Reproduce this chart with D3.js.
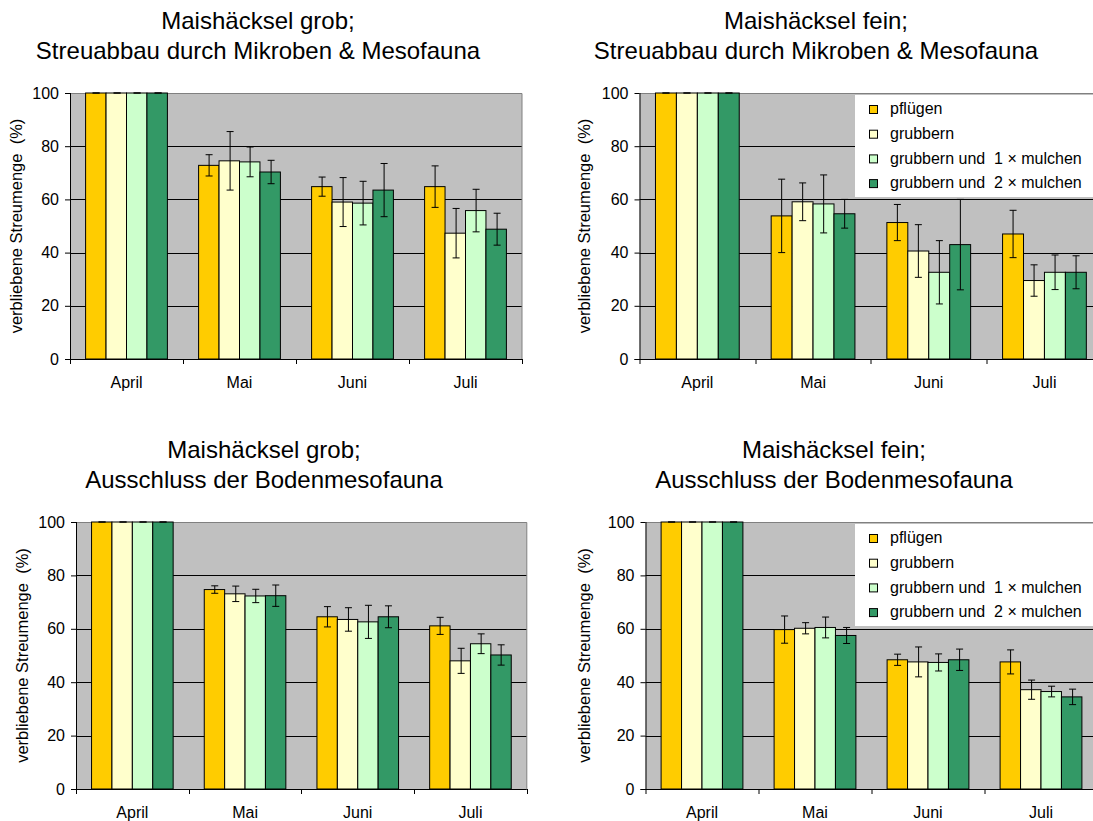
<!DOCTYPE html>
<html>
<head>
<meta charset="utf-8">
<script src="https://cdn.jsdelivr.net/npm/d3@7"></script>
<style>
  body { margin: 0; background: #fff; }
  svg text { font-family: "Liberation Sans", Arial, sans-serif; white-space: pre; fill: #000; }
</style>
</head>
<body>
<div id="chart"></div>
<script>
const months = ["April", "Mai", "Juni", "Juli"];
const treatments = ["pflügen", "grubbern", "grubbern und  1 × mulchen", "grubbern und  2 × mulchen"];
const colors = ["#FFCC00", "#FFFFCC", "#CCFFCC", "#339966"];
const yTicks = [0, 20, 40, 60, 80, 100];

// one row per treatment, one value per month
const grobMesoMean = [[100, 72.8, 64.8, 64.8], [100, 74.5, 59.0, 47.3], [100, 74.1, 58.6, 55.8], [100, 70.3, 63.5, 48.8]];
const grobMesoErr  = [[0, 4.0, 3.6, 7.8], [0, 11.0, 9.2, 9.3], [0, 5.6, 8.2, 8.0], [0, 4.4, 10.0, 6.0]];
const feinMesoMean = [[100, 53.8, 51.3, 47.0], [100, 59.1, 40.6, 29.5], [100, 58.3, 32.6, 32.6], [100, 54.6, 43.0, 32.6]];
const feinMesoErr  = [[0, 13.8, 6.8, 8.9], [0, 7.1, 9.9, 5.9], [0, 10.9, 11.9, 6.5], [0, 5.4, 17.0, 6.2]];
const grobAusMean  = [[100, 74.7, 64.5, 61.1], [100, 73.1, 63.5, 48.0], [100, 72.3, 62.6, 54.4], [100, 72.4, 64.5, 50.2]];
const grobAusErr   = [[0, 1.4, 3.8, 3.2], [0, 2.9, 4.4, 4.7], [0, 2.5, 6.2, 3.7], [0, 4.0, 4.1, 3.8]];
const feinAusMean  = [[100, 59.7, 48.4, 47.6], [100, 60.2, 47.6, 37.2], [100, 60.5, 47.4, 36.5], [100, 57.5, 48.4, 34.5]];
const feinAusErr   = [[0, 5.1, 2.1, 4.5], [0, 2.1, 5.6, 3.6], [0, 3.9, 3.2, 2.0], [0, 3.0, 4.0, 2.9]];

const panels = [
    {title: ["Maishäcksel grob;", "Streuabbau durch Mikroben & Mesofauna"], mean: grobMesoMean, err: grobMesoErr,
     left: 70, top: 93, band: 113, height: 266, titleX: 258, labelX: 18, legend: false},
    {title: ["Maishäcksel fein;", "Streuabbau durch Mikroben & Mesofauna"], mean: feinMesoMean, err: feinMesoErr,
     left: 639.5, top: 93, band: 115.7, height: 266, titleX: 816, labelX: 586, legend: true},
    {title: ["Maishäcksel grob;", "Ausschluss der Bodenmesofauna"], mean: grobAusMean, err: grobAusErr,
     left: 76, top: 522, band: 112.7, height: 267, titleX: 264, labelX: 24, legend: false},
    {title: ["Maishäcksel fein;", "Ausschluss der Bodenmesofauna"], mean: feinAusMean, err: feinAusErr,
     left: 645.5, top: 522, band: 113, height: 267, titleX: 834, labelX: 586, legend: true}
];

const svg = d3.select("#chart")
    .append("svg")
        .attr("width", 1093)
        .attr("height", 821);

function drawPanel(p) {
    const width = p.band * months.length;

    const x0 = d3.scaleBand()
        .domain(months)
        .range([0, width])
        .paddingInner(0.276)
        .paddingOuter(0.138);

    const x1 = d3.scaleBand()
        .domain(d3.range(treatments.length))
        .range([0, x0.bandwidth()]);

    const y = d3.scaleLinear()
        .domain([0, 100])
        .range([p.height, 0]);

    // titles
    p.title.forEach((t, i) => {
        svg.append("text")
            .attr("x", p.titleX)
            .attr("y", p.top - 64 + i * 29.5)
            .attr("text-anchor", "middle")
            .style("font-size", "24px")
            .text(t);
    });

    // y label
    svg.append("text")
        .attr("transform", `translate(${p.labelX},${p.top + p.height / 2}) rotate(-90)`)
        .attr("text-anchor", "middle")
        .attr("dominant-baseline", "middle")
        .style("font-size", "16.5px")
        .text("verbliebene Streumenge  (%)");

    const g = svg.append("g")
        .attr("transform", "translate(" + p.left + "," + p.top + ")");

    g.append("rect")
        .attr("width", width)
        .attr("height", p.height)
        .attr("fill", "#C0C0C0");

    // gridlines
    g.selectAll(".grid")
        .data(yTicks.filter(d => d > 0 && d < 100))
        .join("line")
            .attr("class", "grid")
            .attr("x1", 0)
            .attr("x2", width)
            .attr("y1", d => Math.round(y(d)) + 0.5)
            .attr("y2", d => Math.round(y(d)) + 0.5)
            .attr("stroke", "#000");

    // border top and right
    g.append("path")
        .attr("d", `M0,0.5H${width}V${p.height}`)
        .attr("fill", "none")
        .attr("stroke", "#808080");

    // bars
    const groups = g.selectAll(".month")
        .data(months)
        .join("g")
            .attr("class", "month")
            .attr("transform", d => "translate(" + x0(d) + ",0)");

    groups.selectAll("rect")
        .data((m, mi) => treatments.map((t, ti) => ({ti: ti, v: p.mean[ti][mi], e: p.err[ti][mi]})))
        .join("rect")
            .attr("x", d => x1(d.ti))
            .attr("y", d => y(d.v))
            .attr("width", x1.bandwidth())
            .attr("height", d => y(0) - y(d.v))
            .attr("fill", d => colors[d.ti])
            .attr("stroke", "#000")
            .attr("stroke-width", 1);

    // error bars
    const eb = groups.selectAll(".err")
        .data((m, mi) => treatments.map((t, ti) => ({ti: ti, v: p.mean[ti][mi], e: p.err[ti][mi]})))
        .join("g")
            .attr("class", "err")
            .attr("transform", d => "translate(" + (Math.round(x1(d.ti) + x1.bandwidth() / 2) + 0.5) + ",0)");

    eb.append("line")
        .attr("y1", d => y(d.v + d.e))
        .attr("y2", d => y(d.v - d.e))
        .attr("stroke", "#000");
    eb.selectAll(".cap")
        .data(d => [d.v + d.e, d.v - d.e])
        .join("line")
            .attr("class", "cap")
            .attr("x1", -3.5)
            .attr("x2", 3.5)
            .attr("y1", d => y(d))
            .attr("y2", d => y(d))
            .attr("stroke", "#000");

    // y axis
    const yAxis = g.append("g")
        .call(d3.axisLeft(y).tickValues(yTicks).tickSize(5).tickPadding(6));
    yAxis.select(".domain").attr("d", `M0.5,0V${p.height}`).attr("stroke", "#000");
    yAxis.selectAll(".tick text").style("font-size", "16px").attr("fill", "#000");

    // x axis: ticks at category borders
    const xAxis = g.append("g")
        .attr("transform", "translate(0," + p.height + ")");
    xAxis.append("line")
        .attr("x1", -5)
        .attr("x2", width)
        .attr("y1", 0.5)
        .attr("y2", 0.5)
        .attr("stroke", "#000");
    xAxis.selectAll(".xtick")
        .data(d3.range(months.length + 1))
        .join("line")
            .attr("class", "xtick")
            .attr("x1", i => Math.round(i * p.band) + 0.5)
            .attr("x2", i => Math.round(i * p.band) + 0.5)
            .attr("y1", 0)
            .attr("y2", 5)
            .attr("stroke", "#000");
    xAxis.selectAll(".xlabel")
        .data(months)
        .join("text")
            .attr("class", "xlabel")
            .attr("x", d => x0(d) + x0.bandwidth() / 2)
            .attr("y", 29)
            .attr("text-anchor", "middle")
            .style("font-size", "16px")
            .text(d => d);

    if (p.legend) {
        const lg = svg.append("g")
            .attr("transform", "translate(855," + (p.top + 2) + ")");
        lg.append("rect")
            .attr("width", 250)
            .attr("height", 102)
            .attr("fill", "#fff");
        const items = lg.selectAll(".item")
            .data(treatments)
            .join("g")
                .attr("class", "item")
                .attr("transform", (d, i) => "translate(0," + (15 + i * 24.7) + ")");
        items.append("rect")
            .attr("x", 14.5)
            .attr("y", -4.5)
            .attr("width", 8)
            .attr("height", 8)
            .attr("fill", (d, i) => colors[i])
            .attr("stroke", "#000");
        items.append("text")
            .attr("x", 35)
            .attr("y", 0)
            .attr("dominant-baseline", "middle")
            .style("font-size", "16px")
            .text(d => d);
    }
}

panels.forEach(drawPanel);
</script>
</body>
</html>
